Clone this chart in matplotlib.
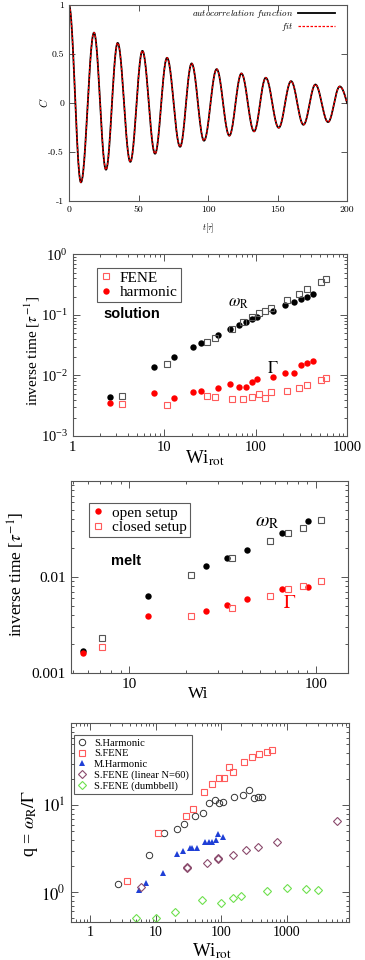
import numpy as np
import matplotlib
matplotlib.use('Agg')
import matplotlib.pyplot as plt
from matplotlib.font_manager import FontProperties
from matplotlib.ticker import FixedLocator, FixedFormatter, LogLocator, NullFormatter

plt.rcParams['font.family'] = ['Liberation Serif', 'DejaVu Serif']
plt.rcParams['mathtext.fontset'] = 'stix'
plt.rcParams['axes.unicode_minus'] = False

#%% Panel 1: autocorrelation function (extrema)
acf_t = [0, 8.6, 18.0, 26.6, 35.0, 44.1, 52.8, 61.9, 70.5, 79.9, 88.2, 97.1,
         106.2, 115.3, 124.0, 133.1, 141.5, 150.8, 159.7, 168.6, 177.2, 186.3,
         194.7, 200.0]
acf_c = [1.0, -0.81, 0.72, -0.68, 0.615, -0.60, 0.534, -0.517, 0.463, -0.446,
         0.405, -0.384, 0.347, -0.333, 0.303, -0.289, 0.259, -0.252, 0.224,
         -0.221, 0.19, -0.194, 0.17, 0.0]
acf_xticks = [0, 50, 100, 150, 200]
acf_yticks = [-1, -0.5, 0, 0.5, 1]

#%% Panel 2: solution, FENE vs harmonic
harm_wi = [2.55, 7.7, 12.7, 20.4, 25.5, 38.8, 52, 65, 78, 91, 104, 154, 207,
           261, 312, 362, 422]
harm_omega = [0.0044, 0.014, 0.0204, 0.0292, 0.034, 0.0466, 0.0578, 0.068,
              0.0755, 0.0845, 0.093, 0.117, 0.144, 0.165, 0.181, 0.2, 0.219]
harm_gamma = [0.00356, 0.00508, 0.0043, 0.0054, 0.0056, 0.0063, 0.00716,
              0.00653, 0.00653, 0.0079, 0.0087, 0.0093, 0.011, 0.011, 0.0151,
              0.0163, 0.0175]
fene_wi = [3.5, 10.7, 29, 35.7, 54.7, 72, 91, 108.6, 125, 145.6, 219, 292,
           362, 512, 590]
fene_omega = [0.00454, 0.0153, 0.0353, 0.041, 0.059, 0.077, 0.092, 0.106,
              0.117, 0.131, 0.176, 0.224, 0.267, 0.353, 0.386]
fene_gamma = [0.00335, 0.00323, 0.00465, 0.00447, 0.00414, 0.00414, 0.00436,
              0.00495, 0.0042, 0.00535, 0.0056, 0.0063, 0.007, 0.0084, 0.009]

#%% Panel 3: melt, open vs closed setup
open_wi = [5.63, 12.6, 25.9, 33.2, 42.5, 65.4, 90.2]
open_omega = [0.00172, 0.00638, 0.0131, 0.0159, 0.0192, 0.0287, 0.0377]
open_gamma = [0.00164, 0.00389, 0.00446, 0.00506, 0.00594, 0.00743, 0.0079]
closed_wi = [7.1, 21.3, 35.5, 56.6, 70.8, 85.2, 106.4]
closed_omega = [0.00233, 0.0105, 0.0156, 0.0235, 0.0283, 0.0324, 0.0395]
closed_gamma = [0.00187, 0.00389, 0.00482, 0.00634, 0.00743, 0.0081, 0.009]

#%% Panel 4: q = omega_R / Gamma
sh_wi = [2.62, 7.8, 13.2, 20.9, 26.8, 39.4, 53, 64.6, 79, 91.9, 107, 158, 212,
         264, 320, 368, 424]
sh_q = [1.23, 2.69, 4.8, 5.38, 6.09, 7.51, 8.06, 10.6, 11.4, 10.6, 10.8, 12.6,
        13.2, 14.8, 12.1, 12.3, 12.4]
sf_wi = [3.65, 10.7, 29.2, 36.8, 55, 72.8, 93, 112, 130.6, 149, 222, 298, 372,
         510, 588]
sf_q = [1.35, 4.77, 7.57, 9.1, 14.1, 17.7, 20.4, 20.8, 27.4, 24.3, 31.6, 35.7,
        38.7, 41.1, 42.9]
mh_wi = [5.6, 7.1, 12.8, 21.2, 26.5, 33.6, 35.5, 42.4, 55.6, 64, 72.8, 84.7,
         88.7, 107]
mh_q = [1.05, 1.28, 1.65, 2.72, 2.97, 3.18, 3.22, 3.26, 3.76, 3.82, 3.76, 3.96,
        4.68, 4.36]
lin_wi = [6, 30, 30, 60, 90, 90, 150, 240, 360, 720, 6000]
lin_q = [1.16, 1.9, 1.94, 2.18, 2.49, 2.4, 2.69, 3.07, 3.3, 3.82, 6.53]
db_wi = [5, 10, 20, 50, 100, 150, 200, 500, 1000, 2000, 3000]
db_q = [0.50, 0.505, 0.59, 0.81, 0.757, 0.863, 0.91, 1.045, 1.11, 1.10, 1.07]


def through_extrema(t, c, n=40):
    # smooth oscillation drawn through successive extrema
    ts, cs = [], []
    for i in range(len(t) - 1):
        s = np.linspace(0, 1, n, endpoint=False)
        if i == len(t) - 2:
            s = np.linspace(0, 1, n)
            seg = c[i] * np.cos(np.pi / 2 * s)
        else:
            seg = c[i] + (c[i + 1] - c[i]) * (1 - np.cos(np.pi * s)) / 2
        ts.append(t[i] + (t[i + 1] - t[i]) * s)
        cs.append(seg)
    return np.concatenate(ts), np.concatenate(cs)


frame = '#555555'


def style_axes(ax, labelsize):
    for sp in ax.spines.values():
        sp.set_color(frame)
        sp.set_linewidth(0.8)
    ax.tick_params(which='both', direction='in', top=True, right=True,
                   color=frame, width=0.7, labelsize=labelsize)
    ax.tick_params(which='major', length=5)
    ax.tick_params(which='minor', length=2.5)


fig = plt.figure(figsize=(3.65, 9.6), dpi=100)

#%% Panel 1
ax1 = fig.add_axes([0.189, 0.7906, 0.762, 0.204])
tt, cc = through_extrema(acf_t, acf_c)
ax1.plot(tt, cc, color='black', lw=1.3, label=r'$autocorrelation\ function$')
ax1.plot(tt, cc, color='red', lw=0.9, ls=(0, (2, 1.2)), label=r'$fit$')
ax1.set_xlim(0, 200)
ax1.set_ylim(-1, 1)
cmfont = FontProperties(family='cmr10', size=7)
ax1.set_xticks(acf_xticks)
ax1.set_xticklabels([str(v) for v in acf_xticks], fontproperties=cmfont)
ax1.set_yticks(acf_yticks)
ax1.set_yticklabels(['-1', '-0.5', '0', '0.5', '1'], fontproperties=cmfont)
style_axes(ax1, 7)
ax1.tick_params(which='major', length=4)
ax1.set_ylabel(r'$C$', fontproperties=FontProperties(size=8, math_fontfamily='cm'))
ax1.yaxis.set_label_coords(-0.07, 0.5)
ax1.set_xlabel(r'$t[\tau]$', fontproperties=FontProperties(size=6, math_fontfamily='cm'))
ax1.xaxis.set_label_coords(0.5, -0.105)
ax1.legend(loc='upper right', bbox_to_anchor=(0.958, 0.985), frameon=False,
           markerfirst=False, borderpad=0, borderaxespad=0, handlelength=4.2,
           handletextpad=0.45, labelspacing=0.1,
           prop=FontProperties(size=6.5, math_fontfamily='cm'))

#%% Panel 2
ax2 = fig.add_axes([0.199, 0.5458, 0.753, 0.1893])
ax2.set_xscale('log')
ax2.set_yscale('log')
ax2.plot(harm_wi, harm_omega, 'o', color='black', ms=4.6, mew=0)
ax2.plot(fene_wi, fene_omega, 's', mfc='none', mec='#555555', ms=3.8, mew=0.8)
ax2.plot(fene_wi, fene_gamma, 's', mfc='none', mec='#ff5a5a', ms=3.8, mew=0.8,
         label='FENE')
ax2.plot(harm_wi, harm_gamma, 'o', color='#ff0000', ms=4.6, mew=0, label='harmonic')
ax2.set_xlim(1, 1000)
ax2.set_ylim(1e-3, 1)
ax2.xaxis.set_major_locator(FixedLocator([1, 10, 100, 1000]))
ax2.xaxis.set_major_formatter(FixedFormatter(['1', '10', '100', '1000']))
ax2.xaxis.set_minor_locator(LogLocator(subs=np.arange(2, 10)))
ax2.xaxis.set_minor_formatter(NullFormatter())
ax2.yaxis.set_major_locator(LogLocator(numticks=10))
ax2.yaxis.set_minor_locator(LogLocator(subs=np.arange(2, 10), numticks=10))
ax2.yaxis.set_minor_formatter(NullFormatter())
style_axes(ax2, 10.5)
ax2.set_ylabel(r'inverse time [$\tau^{-1}$]', fontsize=11)
ax2.yaxis.set_label_coords(-0.112, 0.468)
ax2.set_xlabel(r'Wi$_{\mathrm{rot}}$', fontsize=13.5)
ax2.xaxis.set_label_coords(0.48, -0.065)
ax2.text(4.4, 0.1035, 'solution', family='Liberation Sans', weight='bold',
         fontsize=10.5, ha='center', va='center')
ax2.text(63.8, 0.158, r'$\omega_{\rm R}$', fontsize=12, ha='center', va='center')
ax2.text(153, 0.0128, r'$\Gamma$', fontsize=12, ha='center', va='center')
leg2 = ax2.legend(loc='upper left', bbox_to_anchor=(0.088, 0.925), borderaxespad=0,
                  numpoints=1, fancybox=False, edgecolor='#333333', fontsize=11,
                  handlelength=0.8, handletextpad=0.5, borderpad=0.2,
                  labelspacing=0.05)
leg2.get_frame().set_linewidth(0.8)

#%% Panel 3
ax3 = fig.add_axes([0.1937, 0.2986, 0.759, 0.2003])
ax3.set_xscale('log')
ax3.set_yscale('log')
ax3.plot(open_wi, open_omega, 'o', color='black', ms=4.6, mew=0)
ax3.plot(closed_wi, closed_omega, 's', mfc='none', mec='#555555', ms=3.8, mew=0.8)
ax3.plot(open_wi, open_gamma, 'o', color='#ff0000', ms=4.6, mew=0, label='open setup')
ax3.plot(closed_wi, closed_gamma, 's', mfc='none', mec='#ff5a5a', ms=3.8, mew=0.8,
         label='closed setup')
ax3.set_xlim(4.85, 148)
ax3.set_ylim(1e-3, 0.099)
ax3.xaxis.set_major_locator(FixedLocator([10, 100]))
ax3.xaxis.set_major_formatter(FixedFormatter(['10', '100']))
ax3.xaxis.set_minor_locator(LogLocator(subs=np.arange(2, 10)))
ax3.xaxis.set_minor_formatter(NullFormatter())
ax3.yaxis.set_major_locator(FixedLocator([0.001, 0.01]))
ax3.yaxis.set_major_formatter(FixedFormatter(['0.001', '0.01']))
ax3.yaxis.set_minor_locator(LogLocator(subs=np.arange(2, 10), numticks=10))
ax3.yaxis.set_minor_formatter(NullFormatter())
style_axes(ax3, 11)
ax3.set_ylabel(r'inverse time [$\tau^{-1}$]', fontsize=12.5)
ax3.yaxis.set_label_coords(-0.158, 0.514)
ax3.set_xlabel('Wi', fontsize=12.5)
ax3.xaxis.set_label_coords(0.46, -0.068)
ax3.text(9.58, 0.0148, 'melt', family='Liberation Sans', weight='bold',
         fontsize=10.5, ha='center', va='center')
ax3.text(54.5, 0.0365, r'$\omega_{\rm R}$', fontsize=14, ha='center', va='center')
ax3.text(72.6, 0.00536, r'$\Gamma$', fontsize=14, color='red', ha='center',
         va='center')
leg3 = ax3.legend(loc='upper left', bbox_to_anchor=(0.066, 0.886), borderaxespad=0,
                  numpoints=1, fancybox=False, edgecolor='#333333', fontsize=11,
                  handlelength=0.8, handletextpad=0.5, borderpad=0.2,
                  labelspacing=0.05)
leg3.get_frame().set_linewidth(0.8)

#%% Panel 4
ax4 = fig.add_axes([0.1937, 0.0401, 0.7625, 0.2071])
ax4.set_xscale('log')
ax4.set_yscale('log')
ax4.plot(sh_wi, sh_q, 'o', mfc='none', mec='#333333', ms=4.6, mew=0.7,
         label='S.Harmonic')
ax4.plot(sf_wi, sf_q, 's', mfc='none', mec='#ff5a5a', ms=4.2, mew=0.8,
         label='S.FENE')
ax4.plot(mh_wi, mh_q, '^', color='#1f3fd6', ms=4.6, mew=0, label='M.Harmonic')
ax4.plot(lin_wi, lin_q, 'D', mfc='none', mec='#8a4a6c', ms=3.6, mew=0.8,
         label='S.FENE (linear N=60)')
ax4.plot(db_wi, db_q, 'D', mfc='none', mec='#6ee04e', ms=3.6, mew=0.8,
         label='S.FENE (dumbbell)')
ax4.set_xlim(0.5, 9000)
ax4.set_ylim(0.46, 89)
ax4.xaxis.set_major_locator(FixedLocator([1, 10, 100, 1000]))
ax4.xaxis.set_major_formatter(FixedFormatter(['1', '10', '100', '1000']))
ax4.xaxis.set_minor_locator(LogLocator(subs=np.arange(2, 10), numticks=10))
ax4.xaxis.set_minor_formatter(NullFormatter())
ax4.yaxis.set_major_locator(FixedLocator([1, 10]))
ax4.yaxis.set_major_formatter(FixedFormatter([r'$10^0$', r'$10^1$']))
ax4.yaxis.set_minor_locator(LogLocator(subs=np.arange(2, 10), numticks=10))
ax4.yaxis.set_minor_formatter(NullFormatter())
style_axes(ax4, 10)
ax4.tick_params(axis='y', labelsize=12)
ax4.set_ylabel(r'q = $\omega_{\rm R}/\Gamma$', fontsize=13)
ax4.yaxis.set_label_coords(-0.11, 0.495)
ax4.set_xlabel(r'Wi$_{\mathrm{rot}}$', fontsize=13.5)
ax4.xaxis.set_label_coords(0.508, -0.1)
leg4 = ax4.legend(loc='upper left', bbox_to_anchor=(0.012, 0.938), borderaxespad=0,
                  numpoints=1, fancybox=False, edgecolor='#333333', fontsize=7.6,
                  handlelength=1.0, handletextpad=0.6, borderpad=0.3,
                  labelspacing=0.12)
leg4.get_frame().set_linewidth(0.8)

fig.savefig('out.png', dpi=100)
